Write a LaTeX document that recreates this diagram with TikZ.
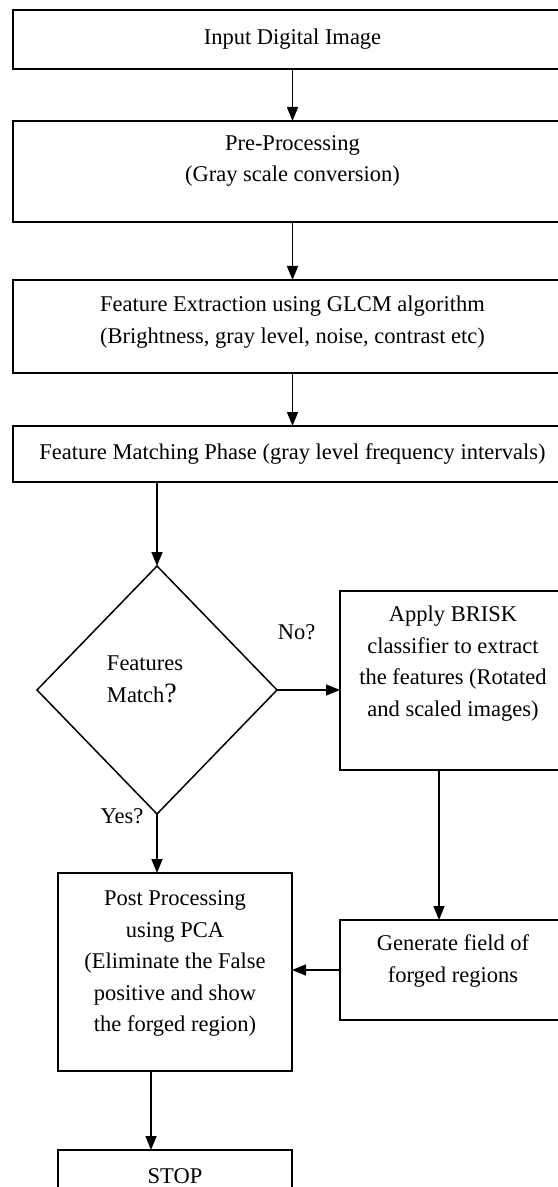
\documentclass[tikz,border=0pt]{standalone}
\usepackage{fontspec}
\setmainfont{Liberation Serif}
\usetikzlibrary{arrows.meta, positioning, shapes.geometric}

\begin{document}
\begin{tikzpicture}[
		font=\fontsize{11.25}{15.75}\selectfont,
		line width=0.75pt,
		>={Triangle[length=7pt,width=5.5pt]},
		bigbox/.style={rectangle,draw,align=center,minimum width=279.5pt,inner sep=0pt,outer sep=0pt},
		sidebox/.style={rectangle,draw,align=center,minimum width=113pt,inner sep=0pt,outer sep=0pt},
		leftbox/.style={rectangle,draw,align=center,minimum width=117pt,inner sep=0pt,outer sep=0pt},
		decision/.style={diamond,draw,align=left,text width=50pt,minimum width=120pt,minimum height=124pt,inner sep=0pt,outer sep=0pt}
		]
		\useasboundingbox (-146.25pt,19.75pt) rectangle ++(278.5pt,-593.5pt);
		\node[bigbox, minimum height=29.5pt](S1) at (0,0){Input Digital Image};
		\node[bigbox, minimum height=50.5pt, text depth=13pt, below = 26pt of S1](S2){Pre-Processing\\(Gray scale conversion)};
		\node[bigbox, minimum height=46.5pt, text depth=7pt, below = 29pt of S2](S3){Feature Extraction using GLCM algorithm\\(Brightness, gray level, noise, contrast etc)};
		\node[bigbox, minimum height=28pt, below = 26.5pt of S3](S4){Feature Matching Phase (gray level frequency intervals)};
		\node[decision, text depth=26.5pt, below = 42pt of S4, xshift = -67.75pt](D){Features\\Match{\fontsize{14}{15.75}\selectfont ?}};
		\node[sidebox, minimum height=89.5pt, text depth=19.5pt, right = 31.5pt of D, yshift = 4.75pt](S5){Apply BRISK\\classifier to extract\\the features (Rotated\\and scaled images)};
		\node[sidebox, minimum height=50pt, text depth=11.5pt, below = 75pt of S5](S7){Generate field of\\forged regions};
		\node[leftbox, minimum height=99pt, text depth=10.5pt, below = 29.5pt of D, xshift = 9pt](S6){Post Processing\\using PCA\\(Eliminate the False\\positive and show\\the forged region)};
		\node[leftbox, minimum height=26pt, below = 39.5pt of S6](S8){STOP};

		\draw[->] (S1) -- (S2);
		\draw[->] (S2) -- (S3);
		\draw[->] (S3) -- (S4);
		\draw[->] (S4.south -| D.north) -- (D.north);
		\draw[->] (D.east) -- (D.east -| S5.west) node [midway, xshift = -6pt, yshift = 29pt]{No?};
		\draw[->] (D.south) -- (D.south |- S6.north) node [midway, xshift = -17.5pt, yshift = 13.75pt]{Yes?};
		\draw[->] ([xshift=-7pt]S5.south) -- ([xshift=-7pt]S5.south |- S7.north);
		\draw[->] (S7.west) -- (S7.west -| S6.east);
		\draw[->] ([xshift=-12pt]S6.south) -- ([xshift=-12pt]S6.south |- S8.north);

	\end{tikzpicture}
\end{document}
